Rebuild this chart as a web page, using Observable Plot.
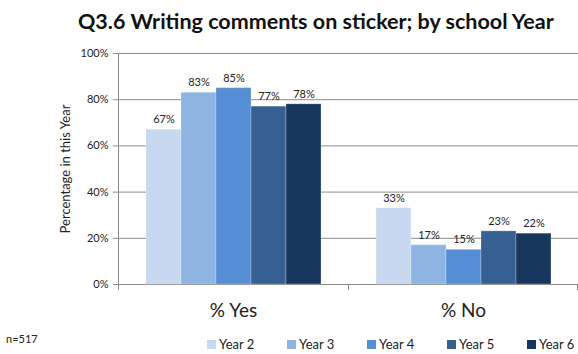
<!DOCTYPE html>
<html>
<head>
<meta charset="utf-8">
<script src="https://cdn.jsdelivr.net/npm/d3@7"></script>
<script src="https://cdn.jsdelivr.net/npm/@observablehq/plot@0.6"></script>
<style>
  body { margin: 0; background: #fff; font-family: Lato, "Open Sans", sans-serif; color: #222; }
  #wrap { position: relative; width: 578px; height: 354px; overflow: hidden; background: #fff; }
  #title { position: absolute; left: 78px; top: 8px; font-size: 21.5px; font-weight: bold; white-space: nowrap; color: #111; }
  #chart { position: absolute; left: 0; top: 40px; }
  #ylab { position: absolute; left: 65px; top: 169px; transform: translate(-50%, -50%) rotate(-90deg); font-size: 13px; white-space: nowrap; color: #222; }
  #n { position: absolute; left: 6px; top: 332px; font-size: 11px; color: #222; }
  #legend { position: absolute; left: 207px; top: 336px; display: flex; font-size: 13px; color: #222; }
  #legend .item { width: 80px; display: flex; align-items: center; }
  #legend .sw { width: 9px; height: 9px; margin-right: 3px; }
</style>
</head>
<body>
<div id="wrap">
  <div id="title">Q3.6 Writing comments on sticker; by school Year</div>
  <div id="chart"></div>
  <div id="ylab">Percentage in this Year</div>
  <div id="n">n=517</div>
  <div id="legend"></div>
</div>
<script>
const categories = ["% Yes", "% No"];
const years = ["Year 2", "Year 3", "Year 4", "Year 5", "Year 6"];
const yesValues = [67, 83, 85, 77, 78];
const noValues = [33, 17, 15, 23, 22];
const yearColors = ["#C6D9F1", "#8DB4E2", "#558ED5", "#366092", "#17375E"];
const yTicks = [0, 0.2, 0.4, 0.6, 0.8, 1];

const data = [];
years.forEach((y, i) => data.push({cat: categories[0], year: y, value: yesValues[i] / 100}));
years.forEach((y, i) => data.push({cat: categories[1], year: y, value: noValues[i] / 100}));

const plot = Plot.plot({
  width: 578,
  height: 314,
  marginLeft: 118,
  marginRight: 0,
  marginTop: 13,
  marginBottom: 70,
  style: {fontFamily: "Lato, 'Open Sans', sans-serif", background: "#fff", color: "#222"},
  fx: {domain: categories, padding: 0, label: null},
  x: {domain: years, paddingInner: 0, paddingOuter: 0.76, axis: null},
  y: {domain: [0, 1], label: null},
  color: {domain: years, range: yearColors},
  marks: [
    Plot.gridY(yTicks, {stroke: "#8a8a8a", strokeOpacity: 1, strokeWidth: 1}),
    Plot.axisY(yTicks, {tickFormat: d3.format(".0%"), tickSize: 5, tickPadding: 5, fontSize: 11, stroke: "#8a8a8a", label: null}),
    Plot.axisFx({anchor: "bottom", tickSize: 0, tickPadding: 19, fontSize: 19, label: null}),
    Plot.barY(data, {fx: "cat", x: "year", y: "value", fill: "year", stroke: "#ffffff", strokeOpacity: 0.25, strokeWidth: 1}),
    Plot.text(data, {fx: "cat", x: "year", y: "value", text: d => d3.format(".0%")(d.value), dy: -10, fontSize: 11, fill: "#222"})
  ]
});

document.getElementById("chart").appendChild(plot);

// Axis line and category dividers, positioned from Plot's own scales
const fxs = plot.scale("fx");
const ys = plot.scale("y");
const band = d3.scaleBand().domain(fxs.domain).range(fxs.range).paddingInner(fxs.paddingInner || 0).paddingOuter(fxs.paddingOuter || 0);
const yl = d3.scaleLinear().domain(ys.domain).range(ys.range);
const svg = d3.select(plot.tagName === "svg" ? plot : plot.querySelector("svg"));
const bounds = [band(fxs.domain[0]), ...fxs.domain.map(c => band(c) + band.bandwidth())];
const g = svg.append("g").attr("stroke", "#8a8a8a").attr("stroke-width", 1);
g.append("line").attr("x1", bounds[0] + 0.5).attr("x2", bounds[0] + 0.5).attr("y1", yl(1)).attr("y2", yl(0));
bounds.forEach(b => {
  const x = Math.min(b, fxs.range[1] - 1) + 0.5;
  g.append("line").attr("x1", x).attr("x2", x).attr("y1", yl(0)).attr("y2", yl(0) + 6);
});

// Legend
const legend = document.getElementById("legend");
years.forEach((y, i) => {
  const it = document.createElement("div");
  it.className = "item";
  it.innerHTML = `<span class="sw" style="background:${yearColors[i]}"></span><span>${y}</span>`;
  legend.appendChild(it);
});
</script>
</body>
</html>
